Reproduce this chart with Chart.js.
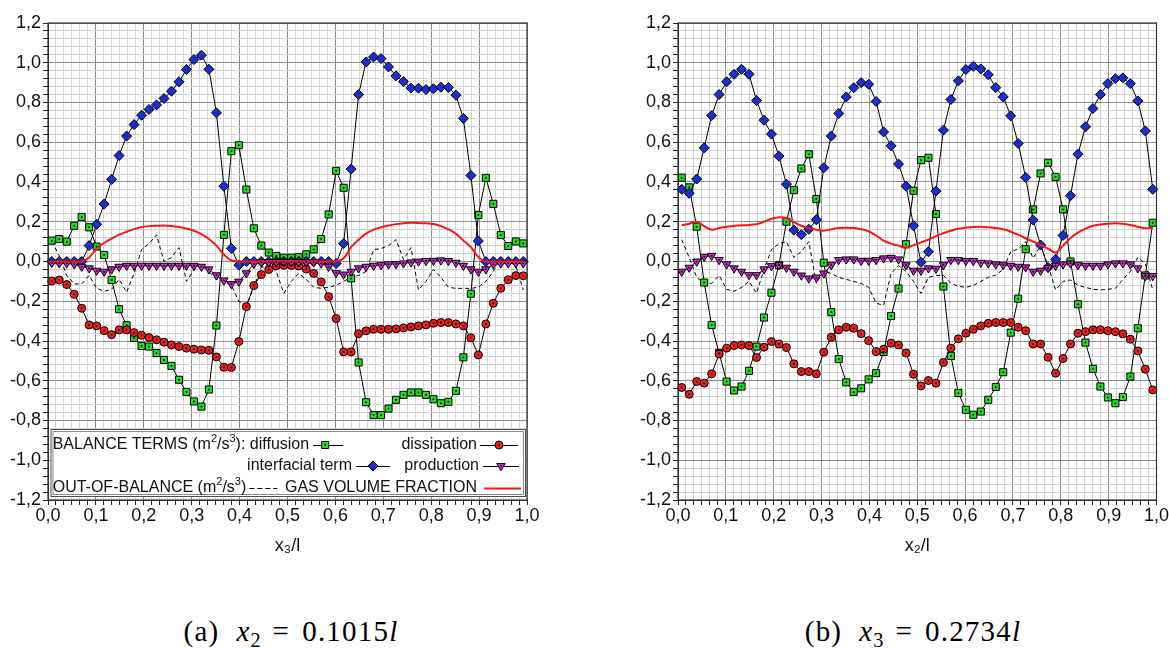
<!DOCTYPE html>
<html><head><meta charset="utf-8">
<script src="https://cdn.jsdelivr.net/npm/chart.js@4.4.1/dist/chart.umd.min.js"></script>
<style>
html,body{margin:0;padding:0;background:#fff;}
body{width:1169px;height:648px;position:relative;overflow:hidden;font-family:"Liberation Sans",Arial,sans-serif;}
canvas{position:absolute;top:0;}
.cap{position:absolute;top:615px;font-family:"Liberation Serif","DejaVu Serif",serif;font-size:29px;letter-spacing:1.2px;color:#000;white-space:nowrap;transform:translateX(-50%);line-height:32px;}
.cap sub{font-size:70%;vertical-align:-0.3em;line-height:0;letter-spacing:0;}
.cap .gap{display:inline-block;width:17px;}
.cap .eq{display:inline-block;margin:0 12px;}
</style></head>
<body>
<canvas id="c1" width="560" height="560" style="left:0"></canvas>
<canvas id="c2" width="539" height="560" style="left:630px"></canvas>
<div class="cap" style="left:291px">(a)<span class="gap"></span><i>x</i><sub>2</sub><span class="eq">=</span>0.1015<i>l</i></div>
<div class="cap" style="left:913px">(b)<span class="gap"></span><i>x</i><sub>3</sub><span class="eq">=</span>0.2734<i>l</i></div>
<script>
// ---- sample positions (64 cells) ----
const X = [0.0078,0.0234,0.0391,0.0547,0.0703,0.0859,0.1016,0.1172,0.1328,0.1484,0.1641,0.1797,0.1953,0.2109,0.2266,0.2422,
0.2578,0.2734,0.2891,0.3047,0.3203,0.3359,0.3516,0.3672,0.3828,0.3984,0.4141,0.4297,0.4453,0.4609,0.4766,0.4922,
0.5078,0.5234,0.5391,0.5547,0.5703,0.5859,0.6016,0.6172,0.6328,0.6484,0.6641,0.6797,0.6953,0.7109,0.7266,0.7422,
0.7578,0.7734,0.7891,0.8047,0.8203,0.8359,0.8516,0.8672,0.8828,0.8984,0.9141,0.9297,0.9453,0.9609,0.9766,0.9922];

// ---- tick labels ----
const xMajor = [0,0.1,0.2,0.3,0.4,0.5,0.6,0.7,0.8,0.9,1.0];
const xTickLabels = ['0,0','0,1','0,2','0,3','0,4','0,5','0,6','0,7','0,8','0,9','1,0'];
const yMajor = [-1.2,-1.0,-0.8,-0.6,-0.4,-0.2,0,0.2,0.4,0.6,0.8,1.0,1.2];
const yTickLabels = ['-1,2','-1,0','-0,8','-0,6','-0,4','-0,2','0,0','0,2','0,4','0,6','0,8','1,0','1,2'];

// ---- panel (a): x2 = 0.1015 l ----
const A_diffusion = [0.105,0.113,0.1,0.18,0.224,0.172,0.075,0.033,-0.093,-0.24,
-0.321,-0.384,-0.425,-0.428,-0.461,-0.495,-0.525,-0.595,-0.656,-0.704,
-0.73,-0.644,-0.322,0.134,0.555,0.585,0.362,0.167,0.08,0.045,
0.028,0.019,0.019,0.022,0.036,0.061,0.113,0.237,0.456,0.371,
-0.085,-0.508,-0.708,-0.773,-0.773,-0.74,-0.696,-0.671,-0.659,-0.659,
-0.671,-0.693,-0.713,-0.706,-0.651,-0.482,-0.162,0.234,0.421,0.29,
0.133,0.078,0.101,0.091];
const A_dissipation = [-0.098,-0.093,-0.116,-0.165,-0.235,-0.319,-0.324,-0.348,-0.368,-0.344,
-0.344,-0.358,-0.371,-0.383,-0.394,-0.406,-0.42,-0.428,-0.436,-0.441,
-0.445,-0.447,-0.48,-0.532,-0.533,-0.403,-0.227,-0.121,-0.066,-0.04,
-0.022,-0.019,-0.02,-0.023,-0.038,-0.06,-0.103,-0.177,-0.287,-0.455,
-0.455,-0.363,-0.349,-0.341,-0.341,-0.341,-0.339,-0.334,-0.329,-0.324,
-0.319,-0.311,-0.307,-0.307,-0.314,-0.324,-0.384,-0.47,-0.314,-0.21,
-0.135,-0.092,-0.071,-0.072];
const A_interfacial = [0,0,0,0,0,0.08,0.187,0.289,0.413,0.533,
0.631,0.689,0.736,0.765,0.788,0.82,0.857,0.904,0.966,1.016,
1.038,0.967,0.748,0.379,0.066,-0.018,0,0,0,0,
0,0,0,0,0,0,0,0,-0.01,0.09,
0.465,0.84,1.004,1.029,1.021,0.979,0.934,0.905,0.873,0.872,
0.865,0.869,0.877,0.876,0.837,0.72,0.433,0.103,0,0,
0,0,0,0];
const A_production = [-0.006,-0.009,-0.009,-0.014,-0.026,-0.034,-0.046,-0.051,-0.039,-0.026,
-0.021,-0.021,-0.021,-0.021,-0.021,-0.021,-0.021,-0.021,-0.021,-0.021,
-0.026,-0.039,-0.069,-0.095,-0.113,-0.101,-0.059,-0.012,-0.004,-0.003,
-0.003,-0.003,-0.003,-0.003,-0.003,-0.004,-0.01,-0.026,-0.058,-0.065,
-0.051,-0.034,-0.026,-0.021,-0.018,-0.014,-0.013,-0.009,-0.004,0,
0.003,0.004,0.006,0.003,-0.006,-0.021,-0.039,-0.051,-0.039,-0.014,
-0.009,-0.009,-0.009,-0.009];
const A_outOfBalance = [0.10,0.03,-0.07,-0.113,-0.113,-0.07,-0.135,-0.15,-0.14,-0.09,
-0.155,-0.06,0.06,0.09,0.134,0.0,0.02,0.07,-0.1,-0.04,
-0.02,-0.05,-0.09,-0.1,-0.12,-0.2,-0.22,-0.13,-0.03,-0.02,
-0.05,-0.16,-0.1,-0.06,-0.09,-0.13,-0.135,-0.13,-0.12,-0.1,
-0.08,-0.07,-0.05,0.06,0.065,0.08,0.11,0.01,0.07,-0.143,
-0.1,-0.04,-0.08,-0.13,-0.135,-0.135,-0.135,-0.13,-0.1,-0.05,
0.02,0.0,-0.02,-0.143];
const A_gas = [0,0,0,0,0,0.02,0.066,0.093,0.115,0.135,
0.15,0.163,0.173,0.178,0.18,0.181,0.179,0.174,0.166,0.155,
0.138,0.113,0.08,0.035,0.005,0,0,0,0,0,
0,0,0,0,0,0,0,0,0,0.016,
0.072,0.11,0.14,0.16,0.172,0.181,0.188,0.193,0.195,0.194,
0.192,0.189,0.178,0.162,0.14,0.105,0.072,0.022,0,0,
0,0,0,0];

// ---- panel (b): x3 = 0.2734 l ----
const B_diffusion = [0.422,0.373,0.175,-0.106,-0.32,-0.46,-0.604,-0.649,-0.629,-0.55,
-0.428,-0.282,-0.157,-0.018,0.2,0.359,0.468,0.54,0.314,-0.006,
-0.255,-0.491,-0.608,-0.656,-0.638,-0.593,-0.562,-0.455,-0.274,-0.136,
0.087,0.356,0.51,0.522,0.239,-0.126,-0.475,-0.662,-0.746,-0.771,
-0.755,-0.696,-0.631,-0.557,-0.358,-0.187,0.062,0.262,0.443,0.497,
0.426,0.262,0.0,-0.215,-0.408,-0.54,-0.629,-0.684,-0.713,-0.682,
-0.579,-0.336,-0.07,0.195];
const B_dissipation = [-0.634,-0.668,-0.604,-0.612,-0.565,-0.465,-0.436,-0.423,-0.42,-0.423,
-0.483,-0.431,-0.403,-0.415,-0.433,-0.515,-0.554,-0.554,-0.565,-0.456,
-0.381,-0.344,-0.331,-0.336,-0.363,-0.398,-0.453,-0.441,-0.411,-0.42,
-0.461,-0.567,-0.626,-0.599,-0.612,-0.508,-0.436,-0.389,-0.361,-0.341,
-0.324,-0.311,-0.307,-0.307,-0.307,-0.331,-0.348,-0.415,-0.415,-0.482,
-0.562,-0.488,-0.415,-0.361,-0.353,-0.344,-0.344,-0.348,-0.353,-0.364,
-0.391,-0.45,-0.542,-0.646];
const B_interfacial = [0.363,0.343,0.415,0.572,0.734,0.84,0.904,0.942,0.967,0.942,
0.81,0.711,0.641,0.53,0.389,0.158,0.135,0.162,0.21,0.472,
0.631,0.745,0.828,0.874,0.9,0.892,0.805,0.652,0.582,0.49,
0.379,0.18,-0.004,0.049,0.354,0.661,0.815,0.909,0.966,0.982,
0.969,0.94,0.875,0.828,0.733,0.594,0.423,0.209,0.083,-0.03,
0.011,0.131,0.331,0.54,0.678,0.77,0.84,0.895,0.92,0.924,
0.895,0.808,0.657,0.363];
const B_production = [-0.051,-0.031,0.0,0.024,0.029,0.008,-0.014,-0.034,-0.051,-0.068,
-0.068,-0.039,-0.023,-0.018,-0.031,-0.051,-0.07,-0.085,-0.08,-0.06,
-0.018,0.008,0.011,0.011,0.004,0.004,0.008,0.016,0.019,0.011,
-0.018,-0.046,-0.046,-0.034,-0.036,-0.018,0.008,0.008,0.003,0.003,
-0.006,-0.009,-0.014,-0.018,-0.021,-0.026,-0.029,-0.051,-0.046,-0.031,
-0.021,-0.014,-0.009,-0.018,-0.021,-0.021,-0.021,-0.014,-0.009,-0.009,
-0.014,-0.034,-0.073,-0.073];
const B_outOfBalance = [0.11,0.02,-0.08,-0.11,-0.11,-0.07,-0.14,-0.15,-0.13,-0.1,
-0.16,-0.04,0.06,0.09,0.1,0.02,0.05,0.1,-0.11,-0.05,
-0.06,-0.08,-0.09,-0.1,-0.11,-0.13,-0.21,-0.22,-0.06,-0.02,
-0.05,-0.1,-0.16,-0.08,-0.07,-0.07,-0.11,-0.125,-0.13,-0.12,
-0.1,-0.08,-0.068,-0.04,0.05,0.063,0.1,0.016,0.08,-0.02,
-0.143,-0.1,-0.093,-0.12,-0.13,-0.14,-0.143,-0.14,-0.135,-0.09,
-0.05,0.02,-0.01,-0.143];
const B_gas = [0.183,0.19,0.2,0.178,0.16,0.168,0.175,0.18,0.182,0.184,
0.188,0.2,0.215,0.223,0.218,0.198,0.18,0.168,0.16,0.155,
0.162,0.168,0.17,0.168,0.162,0.152,0.13,0.105,0.09,0.08,
0.07,0.082,0.096,0.11,0.128,0.142,0.155,0.165,0.17,0.174,
0.175,0.172,0.168,0.162,0.15,0.135,0.117,0.1,0.083,0.065,
0.045,0.08,0.118,0.145,0.165,0.18,0.186,0.19,0.192,0.19,
0.184,0.175,0.167,0.17];

// ---- styling ----
const FONT = '"Liberation Sans", Arial, sans-serif';
const C_GREEN = '#22de22', C_RED = '#ee1c1c', C_BLUE = '#1a2ed2', C_MAG = '#d824d8', C_GAS = '#ff1414';
const GRID_MAJ = '#8e8e8e', GRID_MIN = '#d2d2d2';

function subTicks(major, n) {
  const out = [];
  for (let k = 0; k < major.length - 1; k++)
    for (let j = 0; j < n; j++)
      out.push(Math.round((major[k] + (major[k + 1] - major[k]) * j / n) * 1e6) / 1e6);
  out.push(major[major.length - 1]);
  return out;
}
function labelFor(major, labels, v) {
  for (let k = 0; k < major.length; k++) if (Math.abs(major[k] - v) < 1e-6) return labels[k];
  return '';
}
function isMajor(major, v) { return major.some(m => Math.abs(m - v) < 1e-6); }
const xTicks = subTicks(xMajor, 6);
const yTicks = subTicks(yMajor, 5);

function pts(vals) { return X.map((x, i) => ({x: x, y: vals[i]})); }

function marker(ctx, style, x, y, fill, dot) {
  ctx.save();
  ctx.fillStyle = fill; ctx.strokeStyle = '#000'; ctx.lineWidth = 1;
  ctx.beginPath();
  if (style === 'rect') ctx.rect(x - 3.5, y - 3.5, 7, 7);
  else if (style === 'circle') ctx.arc(x, y, 4, 0, Math.PI * 2);
  else if (style === 'diamond') { ctx.moveTo(x, y - 5); ctx.lineTo(x + 5, y); ctx.lineTo(x, y + 5); ctx.lineTo(x - 5, y); ctx.closePath(); }
  else if (style === 'tri') { const r = 4.8; ctx.moveTo(x, y + r); ctx.lineTo(x - r * 0.866, y - r / 2); ctx.lineTo(x + r * 0.866, y - r / 2); ctx.closePath(); }
  ctx.fill(); ctx.stroke();
  if (dot) { ctx.fillStyle = '#111'; ctx.beginPath(); ctx.arc(x, y, 1, 0, Math.PI * 2); ctx.fill(); }
  ctx.restore();
}

// text with real superscripts, returns end x
function supText(ctx, parts, x, y) {
  let cx = x;
  parts.forEach(p => {
    if (p.sup) {
      ctx.font = '11px ' + FONT;
      ctx.fillText(p.t, cx, y - 6);
    } else {
      ctx.font = '16px ' + FONT;
      ctx.fillText(p.t, cx, y);
    }
    cx += ctx.measureText(p.t).width;
  });
  ctx.font = '16px ' + FONT;
  return cx;
}

function drawLegend(ctx, ca) {
  const L = ca.left, B = ca.bottom;
  const bx = L + 2.5, by = B - 71, bw = ca.right - 1 - bx, bh = 68;
  ctx.save();
  ctx.fillStyle = '#fff'; ctx.fillRect(bx, by, bw, bh);
  ctx.strokeStyle = '#505050'; ctx.lineWidth = 1; ctx.strokeRect(bx + 0.5, by + 0.5, bw - 1, bh - 1);
  ctx.strokeStyle = '#8a8a8a'; ctx.strokeRect(bx + 2.5, by + 2.5, bw - 5, bh - 5);
  ctx.font = '16px ' + FONT; ctx.fillStyle = '#111'; ctx.textBaseline = 'middle';
  const y1 = B - 55, y2 = B - 34, y3 = B - 12;
  function seg(x0, x1, y, dash, color, w) {
    ctx.save(); ctx.strokeStyle = color || '#000'; ctx.lineWidth = w || 1;
    if (dash) ctx.setLineDash(dash);
    ctx.beginPath(); ctx.moveTo(x0, y + 0.5); ctx.lineTo(x1, y + 0.5); ctx.stroke(); ctx.restore();
  }
  // row 1
  ctx.textAlign = 'left';
  const e1 = supText(ctx, [{t: 'BALANCE TERMS (m'}, {t: '2', sup: true}, {t: '/s'}, {t: '3', sup: true}, {t: '): diffusion'}], L + 4.7, y1);
  seg(e1 + 4, e1 + 34, y1); marker(ctx, 'rect', e1 + 16, y1, C_GREEN, true);
  ctx.textAlign = 'right';
  ctx.fillText('dissipation', L + 429, y1);
  seg(L + 432, L + 470, y1); marker(ctx, 'circle', L + 451, y1, C_RED, true);
  // row 2
  ctx.fillText('interfacial term', L + 304, y2);
  seg(L + 308, L + 342, y2); marker(ctx, 'diamond', L + 325, y2, C_BLUE, false);
  ctx.fillText('production', L + 431, y2);
  seg(L + 435, L + 471, y2); marker(ctx, 'tri', L + 453, y2, C_MAG, true);
  // row 3
  ctx.textAlign = 'left';
  const e3 = supText(ctx, [{t: 'OUT-OF-BALANCE (m'}, {t: '2', sup: true}, {t: '/s'}, {t: '3', sup: true}, {t: ')'}], L + 4.7, y3);
  seg(e3 + 3, e3 + 31, y3, [5, 3]);
  ctx.textAlign = 'right';
  ctx.fillText('GAS VOLUME FRACTION', L + 429, y3);
  seg(L + 436, L + 473, y3, null, C_GAS, 2);
  ctx.restore();
}

const decor = {
  id: 'decor',
  afterDatasetsDraw(chart, args, opts) {
    const ctx = chart.ctx, ca = chart.chartArea;
    chart.data.datasets.forEach((ds, di) => {
      if (!ds.centerDot) return;
      const meta = chart.getDatasetMeta(di);
      ctx.save(); ctx.fillStyle = '#111';
      meta.data.forEach(p => { ctx.beginPath(); ctx.arc(p.x, p.y, 1, 0, Math.PI * 2); ctx.fill(); });
      ctx.restore();
    });
    if (opts && opts.legend) drawLegend(ctx, ca);
    ctx.save(); ctx.strokeStyle = '#333'; ctx.lineWidth = 1.2;
    ctx.strokeRect(ca.left, ca.top, ca.right - ca.left, ca.bottom - ca.top);
    ctx.restore();
  }
};

function makeChart(id, d, axisTitle, padRight, legend) {
  const datasets = [
    {label: 'GAS VOLUME FRACTION', data: pts(d.gas), borderColor: C_GAS, borderWidth: 2, pointRadius: 0, tension: 0.35, fill: false},
    {label: 'production', data: pts(d.production), borderColor: '#000', borderWidth: 1, pointStyle: 'triangle', pointRotation: 180, pointRadius: 4.8, pointBackgroundColor: C_MAG, pointBorderColor: '#000', pointBorderWidth: 1, tension: 0, centerDot: true},
    {label: 'interfacial term', data: pts(d.interfacial), borderColor: '#000', borderWidth: 1, pointStyle: 'rectRot', pointRadius: 5, pointBackgroundColor: C_BLUE, pointBorderColor: '#000', pointBorderWidth: 1, tension: 0},
    {label: 'dissipation', data: pts(d.dissipation), borderColor: '#000', borderWidth: 1, pointStyle: 'circle', pointRadius: 4, pointBackgroundColor: C_RED, pointBorderColor: '#000', pointBorderWidth: 1, tension: 0, centerDot: true},
    {label: 'diffusion', data: pts(d.diffusion), borderColor: '#000', borderWidth: 1, pointStyle: 'rect', pointRadius: 5, pointBackgroundColor: C_GREEN, pointBorderColor: '#000', pointBorderWidth: 1, tension: 0, centerDot: true},
    {label: 'OUT-OF-BALANCE', data: pts(d.outOfBalance), borderColor: '#000', borderWidth: 1, borderDash: [4, 3], pointRadius: 0, tension: 0}
  ];
  datasets.forEach(ds => { ds.clip = 10; ds.pointHoverRadius = ds.pointRadius; });
  return new Chart(document.getElementById(id), {
    type: 'line',
    data: {datasets: datasets},
    plugins: [decor],
    options: {
      responsive: false, animation: false, events: [],
      layout: {padding: {left: 0, top: 23, right: padRight, bottom: 0}},
      plugins: {legend: {display: false}, tooltip: {enabled: false}, decor: {legend: legend}},
      scales: {
        x: {
          type: 'linear', min: 0, max: 1,
          afterBuildTicks: s => { s.ticks = xTicks.map(v => ({value: v})); },
          afterFit: s => { s.height = 60; s.paddingLeft = 0; s.paddingRight = 0; },
          ticks: {autoSkip: false, maxRotation: 0, minRotation: 0, padding: 0, color: '#111',
                  font: {family: FONT, size: 18}, callback: v => labelFor(xMajor, xTickLabels, v)},
          grid: {color: c => (c.tick && isMajor(xMajor, c.tick.value)) ? GRID_MAJ : GRID_MIN,
                 lineWidth: 1, drawTicks: true, tickLength: 5, tickColor: '#222'},
          border: {display: true, color: '#333', width: 1},
          title: {display: true, text: axisTitle, color: '#111', font: {family: FONT, size: 18}, padding: {top: 0, bottom: 3}}
        },
        y: {
          type: 'linear', min: -1.2, max: 1.2,
          afterBuildTicks: s => { s.ticks = yTicks.map(v => ({value: v})); },
          afterFit: s => { s.width = 48; s.paddingTop = 0; s.paddingBottom = 0; },
          ticks: {autoSkip: false, padding: 2, color: '#111',
                  font: {family: FONT, size: 18}, callback: v => labelFor(yMajor, yTickLabels, v)},
          grid: {color: c => (c.tick && isMajor(yMajor, c.tick.value)) ? GRID_MAJ : GRID_MIN,
                 lineWidth: 1, drawTicks: true, tickLength: 5, tickColor: '#222'},
          border: {display: true, color: '#333', width: 1}
        }
      }
    }
  });
}

makeChart('c1', {diffusion: A_diffusion, dissipation: A_dissipation, interfacial: A_interfacial,
  production: A_production, outOfBalance: A_outOfBalance, gas: A_gas}, 'x₃/l', 33, true);
makeChart('c2', {diffusion: B_diffusion, dissipation: B_dissipation, interfacial: B_interfacial,
  production: B_production, outOfBalance: B_outOfBalance, gas: B_gas}, 'x₂/l', 12.5, false);
</script>
</body></html>
